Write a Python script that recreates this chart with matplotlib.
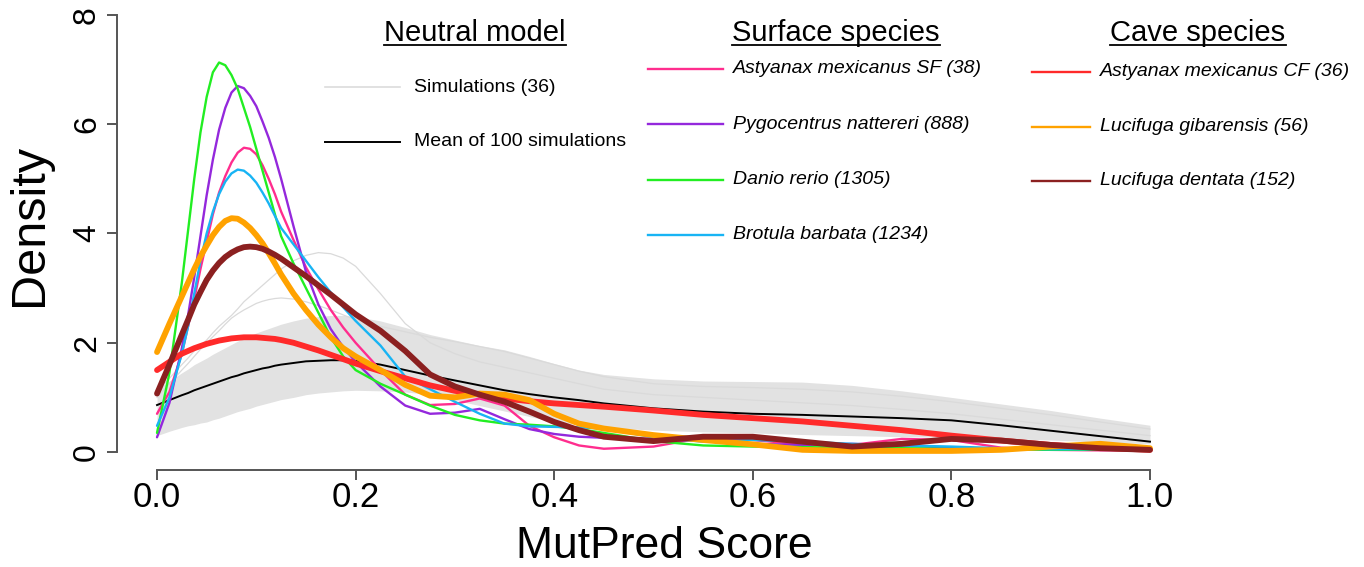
import numpy as np
import matplotlib
matplotlib.use("Agg")
import matplotlib.pyplot as plt
from matplotlib.lines import Line2D

# ---- data ----
score = [0, 0.0125, 0.025, 0.03125, 0.0375, 0.04375, 0.05, 0.05625, 0.0625, 0.06875,
         0.075, 0.08125, 0.0875, 0.09375, 0.1, 0.10625, 0.1125, 0.11875, 0.125,
         0.1375, 0.15, 0.1625, 0.175, 0.1875, 0.2,
         0.225, 0.25, 0.275, 0.3, 0.325, 0.35, 0.375, 0.4, 0.425, 0.45,
         0.5, 0.55, 0.6, 0.65, 0.7, 0.75, 0.8, 0.85, 0.9, 0.95, 1.0]

# neutral model: envelope of the simulation curves, two outlying simulations, mean
sim_low = [0.3, 0.38, 0.45, 0.48, 0.5, 0.53, 0.55, 0.59, 0.62, 0.66,
           0.7, 0.74, 0.77, 0.8, 0.84, 0.87, 0.9, 0.93, 0.96,
           1.0, 1.05, 1.08, 1.1, 1.12, 1.13,
           1.12, 1.1, 1.05, 0.95, 0.85, 0.75, 0.65, 0.55, 0.5, 0.45,
           0.4, 0.37, 0.35, 0.32, 0.3, 0.28, 0.27, 0.25, 0.22, 0.18, 0.15]
sim_high = [1.15, 1.3, 1.45, 1.52, 1.6, 1.66, 1.72, 1.79, 1.85, 1.91,
            1.97, 2.03, 2.08, 2.13, 2.18, 2.22, 2.26, 2.3, 2.34,
            2.4, 2.45, 2.48, 2.5, 2.5, 2.48,
            2.4, 2.28, 2.15, 2.05, 1.95, 1.87, 1.75, 1.62, 1.5, 1.42,
            1.34, 1.3, 1.29, 1.28, 1.22, 1.12, 1.0, 0.88, 0.76, 0.62, 0.49]
sim_out1 = [1.1, 1.35, 1.6, 1.72, 1.85, 1.95, 2.05, 2.18, 2.3, 2.4,
            2.5, 2.62, 2.75, 2.85, 2.95, 3.05, 3.15, 3.25, 3.35,
            3.5, 3.6, 3.65, 3.63, 3.55, 3.4,
            2.9, 2.35, 2.0, 1.8, 1.65, 1.55, 1.45, 1.35, 1.25, 1.15,
            1.05, 1.0, 0.95, 0.9, 0.85, 0.78, 0.7, 0.6, 0.5, 0.4, 0.3]
sim_out2 = [1.0, 1.25, 1.5, 1.62, 1.75, 1.88, 2.0, 2.11, 2.22, 2.34,
            2.45, 2.53, 2.6, 2.66, 2.72, 2.76, 2.79, 2.81, 2.82,
            2.8, 2.75, 2.68, 2.6, 2.51, 2.42,
            2.3, 2.2, 2.1, 2.02, 1.93, 1.84, 1.72, 1.6, 1.48, 1.38,
            1.25, 1.2, 1.18, 1.15, 1.1, 1.02, 0.92, 0.8, 0.68, 0.55, 0.42]
sim_mean = [0.86, 0.95, 1.04, 1.08, 1.13, 1.17, 1.21, 1.25, 1.29, 1.33,
            1.37, 1.4, 1.44, 1.47, 1.5, 1.53, 1.55, 1.58, 1.6,
            1.63, 1.66, 1.67, 1.68, 1.68, 1.67,
            1.6, 1.5, 1.4, 1.31, 1.22, 1.13, 1.06, 1.0, 0.95, 0.89,
            0.8, 0.74, 0.7, 0.68, 0.65, 0.62, 0.58, 0.49, 0.39, 0.29, 0.19]

# surface species
ast_sf = [0.7, 1.1, 1.8, 2.3, 2.8, 3.35, 3.85, 4.35, 4.75, 5.05,
          5.3, 5.48, 5.57, 5.55, 5.45, 5.25, 5.0, 4.72, 4.4,
          3.88, 3.38, 2.98, 2.6, 2.28, 2.0,
          1.5, 1.05, 0.86, 0.88, 0.98, 0.85, 0.48, 0.27, 0.12, 0.06,
          0.1, 0.26, 0.22, 0.14, 0.13, 0.24, 0.22, 0.08, 0.04, 0.03, 0.03]
pygo = [0.27, 0.9, 1.9, 2.5, 3.2, 3.95, 4.7, 5.35, 5.9, 6.3,
        6.58, 6.7, 6.66, 6.52, 6.33, 6.05, 5.75, 5.4, 5.0,
        4.13, 3.3, 2.7, 2.25, 1.92, 1.65,
        1.2, 0.85, 0.7, 0.72, 0.79, 0.6, 0.42, 0.33, 0.28, 0.26,
        0.24, 0.2, 0.15, 0.13, 0.15, 0.12, 0.08, 0.06, 0.05, 0.04, 0.04]
danio = [0.35, 1.45, 3.1, 4.05, 5.0, 5.85, 6.5, 6.95, 7.13, 7.08,
         6.9, 6.65, 6.3, 5.95, 5.55, 5.15, 4.75, 4.35, 3.95,
         3.45, 3.0, 2.55, 2.1, 1.75, 1.5,
         1.25, 1.05, 0.85, 0.68, 0.58, 0.52, 0.5, 0.47, 0.42, 0.35,
         0.2, 0.12, 0.1, 0.09, 0.08, 0.07, 0.06, 0.05, 0.04, 0.04, 0.04]
brotula = [0.48, 1.0, 1.8, 2.3, 2.9, 3.5, 4.0, 4.4, 4.72, 4.95,
           5.1, 5.17, 5.15, 5.06, 4.93, 4.75, 4.55, 4.32, 4.1,
           3.8, 3.5, 3.2, 2.92, 2.65, 2.4,
           1.95, 1.38, 1.15, 0.92, 0.7, 0.52, 0.47, 0.46, 0.45, 0.43,
           0.27, 0.19, 0.22, 0.19, 0.15, 0.12, 0.1, 0.07, 0.05, 0.05, 0.05]

# cave species
ast_cf = [1.5, 1.65, 1.8, 1.85, 1.9, 1.94, 1.98, 2.01, 2.04, 2.06,
          2.08, 2.09, 2.1, 2.1, 2.1, 2.09, 2.08, 2.07, 2.05,
          2.0, 1.93, 1.86, 1.78, 1.7, 1.62,
          1.48, 1.35, 1.22, 1.12, 1.05, 0.98, 0.93, 0.89, 0.86, 0.83,
          0.76, 0.68, 0.62, 0.56, 0.48, 0.4, 0.3, 0.21, 0.13, 0.08, 0.04]
luc_gib = [1.83, 2.35, 2.85, 3.1, 3.35, 3.58, 3.78, 3.97, 4.12, 4.23,
           4.28, 4.27, 4.2, 4.1, 3.97, 3.82, 3.64, 3.45, 3.25,
           2.9, 2.6, 2.33, 2.1, 1.9, 1.75,
           1.5, 1.23, 1.03, 1.0, 1.07, 1.05, 0.95, 0.7, 0.52, 0.43,
           0.31, 0.22, 0.14, 0.04, 0.02, 0.02, 0.02, 0.04, 0.1, 0.15, 0.07]
luc_den = [1.07, 1.6, 2.15, 2.42, 2.7, 2.93, 3.15, 3.32, 3.46, 3.57,
           3.65, 3.71, 3.75, 3.76, 3.75, 3.72, 3.67, 3.61, 3.54,
           3.38, 3.22, 3.05, 2.88, 2.7, 2.52,
           2.22, 1.85, 1.42, 1.2, 1.05, 0.92, 0.74, 0.55, 0.4, 0.28,
           0.2, 0.28, 0.28, 0.19, 0.1, 0.15, 0.24, 0.21, 0.13, 0.07, 0.04]

surface_labels = ["Astyanax mexicanus SF (38)", "Pygocentrus nattereri (888)",
                  "Danio rerio (1305)", "Brotula barbata (1234)"]
cave_labels = ["Astyanax mexicanus CF (36)", "Lucifuga gibarensis (56)",
               "Lucifuga dentata (152)"]
neutral_labels = ["Simulations (36)", "Mean of 100 simulations"]

# ---- styles ----
W, H = 1364, 567
GREY = "#e2e2e2"
surface_cols = ["#ff2d8e", "#9428dc", "#22ee22", "#18b4f4"]
cave_cols = ["#ff2a2a", "#ffa200", "#8b2020"]
SANS = ["Liberation Sans", "DejaVu Sans"]


def fx(px):
    return px / W


def fy(py):
    return 1 - py / H


fig = plt.figure(figsize=(W / 100, H / 100), dpi=100)
# plot region: x 0..1 -> px 157..1150, y 0..8 -> px 452..15 (R style 4% padding)
ax = fig.add_axes([fx(117.3), fy(469.5), (1189.7 - 117.3) / W, (469.5 + 2.5) / H])
ax.set_xlim(-0.04, 1.04)
ax.set_ylim(-0.32, 8.32)

ax.fill_between(score, sim_low, sim_high, color=GREY, lw=0)
ax.plot(score, sim_out1, color="#dadada", lw=0.9)
ax.plot(score, sim_out2, color="#dadada", lw=0.9)
ax.plot(score, sim_mean, color="black", lw=1.4)

for vals, c in zip([ast_sf, pygo, danio, brotula], surface_cols):
    ax.plot(score, vals, color=c, lw=1.7, solid_capstyle="round")
for vals, c in zip([ast_cf, luc_gib, luc_den], cave_cols):
    ax.plot(score, vals, color=c, lw=4.2, solid_capstyle="round")

# axes in R style
for s in ["top", "right"]:
    ax.spines[s].set_visible(False)
for s in ["left", "bottom"]:
    ax.spines[s].set_color("#555555")
    ax.spines[s].set_linewidth(1.4)
ax.spines["left"].set_bounds(0, 8)
ax.spines["bottom"].set_bounds(0, 1)
ax.set_xticks([0, 0.2, 0.4, 0.6, 0.8, 1.0])
ax.set_xticklabels(["0.0", "0.2", "0.4", "0.6", "0.8", "1.0"])
ax.set_yticks([0, 2, 4, 6, 8])
ax.tick_params(axis="both", colors="#555555", width=1.4, length=7,
               labelcolor="black")
ax.tick_params(axis="x", pad=1, labelsize=25)
ax.tick_params(axis="y", pad=4, labelsize=23, labelrotation=90)
for t in ax.get_xticklabels() + ax.get_yticklabels():
    t.set_family(SANS)
for t in ax.get_yticklabels():
    t.set_va("center")

fig.text(fx(664), fy(558), "MutPred Score", ha="center", va="baseline",
         fontsize=32, family=SANS)
fig.text(fx(30), fy(225), "Density", ha="center", va="center", rotation=90,
         fontsize=35, family=SANS)

# ---- legend blocks ----
titles = [("Neutral model", 475), ("Surface species", 836), ("Cave species", 1198)]
title_texts = []
for txt, cx in titles:
    title_texts.append(fig.text(fx(cx), fy(41), txt, ha="center", va="baseline",
                                fontsize=21, family=SANS))

leg = [(325, 400, 87, neutral_labels[0], "#dcdcdc", 1.2, "normal", 14),
       (325, 400, 142, neutral_labels[1], "black", 1.4, "normal", 14)]
for i, lab in enumerate(surface_labels):
    leg.append((648, 723, 69 + 55.3 * i, lab, surface_cols[i], 1.7, "italic", 10))
for i, lab in enumerate(cave_labels):
    leg.append((1032, 1090, 72 + 54.5 * i, lab, cave_cols[i], 1.7, "italic", 10))

for x0, x1, yy, lab, c, lw, style, gap in leg:
    fig.add_artist(Line2D([fx(x0), fx(x1)], [fy(yy), fy(yy)], color=c, lw=lw,
                          transform=fig.transFigure))
    fig.text(fx(x1 + gap), fy(yy), lab, ha="left", va="center", fontsize=14,
             style=style, family=SANS)

# underline the block titles
fig.canvas.draw()
r = fig.canvas.get_renderer()
for t in title_texts:
    bb = t.get_window_extent(r)
    fig.add_artist(Line2D([bb.x0 / W, bb.x1 / W], [fy(44.5), fy(44.5)],
                          color="black", lw=1.3, transform=fig.transFigure))

fig.savefig("out.png", dpi=100, facecolor="white")
